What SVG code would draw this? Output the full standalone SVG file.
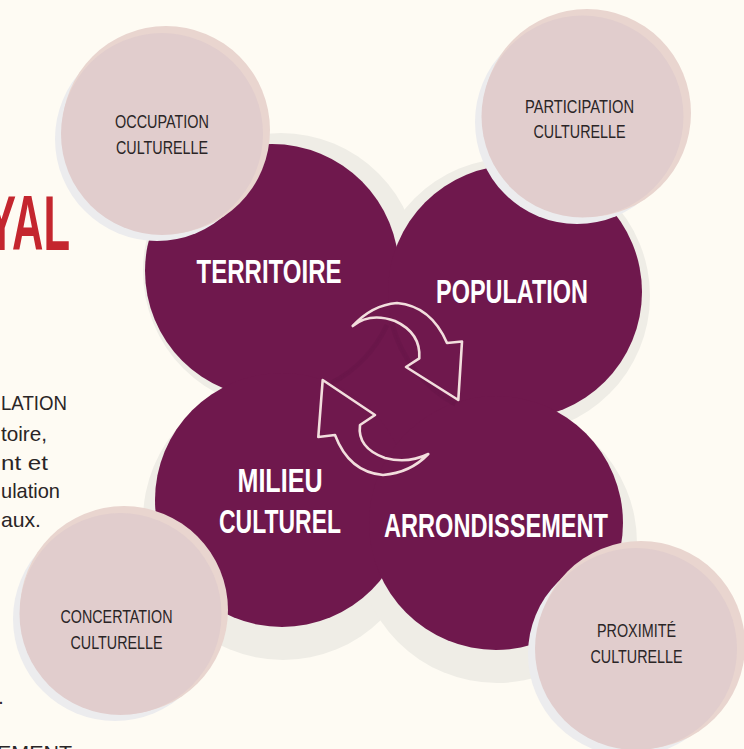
<svg xmlns="http://www.w3.org/2000/svg" width="744" height="749" viewBox="0 0 744 749">
  <style>
    .purple { fill: #6F184D; }
    .pshadow { fill: #EFEDE6; }
    .pink { fill: #E1CDCD; }
    .pring { fill: #E9D5CF; }
    .gring { fill: #ECECEE; }
    .lbl { font-family: "Liberation Sans", Arial, sans-serif; font-size: 18.5px; fill: #2A2526; text-anchor: middle; }
    .big { font-family: "Liberation Sans", Arial, sans-serif; font-size: 34px; font-weight: bold; fill: #FFFFFF; text-anchor: middle; }
    .body { font-family: "Liberation Sans", Arial, sans-serif; font-size: 21px; fill: #2A2526; }
    .arrow { fill: none; stroke: #F2DEDD; stroke-width: 2.6; stroke-linejoin: round; stroke-linecap: round; }
    .fold { fill: none; stroke: #5A1240; stroke-width: 5; stroke-opacity: 0.22; }
  </style>

  <rect x="0" y="0" width="744" height="749" fill="#FEFBF3"/>

  <!-- left page text (cut off) -->
  <g id="page-text">
    <text x="-13" y="250" textLength="83" lengthAdjust="spacingAndGlyphs" font-family="Liberation Sans, Arial, sans-serif" font-size="77" font-weight="bold" fill="#C4262E">YAL</text>
    <text class="body" x="1" y="410" textLength="66" lengthAdjust="spacingAndGlyphs">LATION</text>
    <text class="body" x="1" y="441" textLength="46" lengthAdjust="spacingAndGlyphs">toire,</text>
    <text class="body" x="1" y="470" textLength="47" lengthAdjust="spacingAndGlyphs">nt et</text>
    <text class="body" x="1" y="498" textLength="59" lengthAdjust="spacingAndGlyphs">ulation</text>
    <text class="body" x="1" y="527" textLength="40" lengthAdjust="spacingAndGlyphs">aux.</text>
    <text class="body" x="-2" y="704">.</text>
    <text class="body" x="-3" y="760" textLength="75" lengthAdjust="spacingAndGlyphs">EMENT</text>
  </g>

  <!-- central shape shadows -->
  <g id="shadows">
    <circle class="pshadow" cx="281" cy="271" r="138"/>
    <circle class="pshadow" cx="512" cy="296" r="138"/>
    <circle class="pshadow" cx="283" cy="520" r="140"/>
    <circle class="pshadow" cx="497" cy="543" r="140"/>
  </g>

  <g id="core">
    <circle class="purple" cx="391" cy="397" r="120"/>
  </g>
  <g id="territoire">
    <circle class="purple" cx="272" cy="271" r="127"/>
  </g>
  <g id="population">
    <circle class="purple" cx="515" cy="292" r="127"/>
  </g>
  <g id="milieu-culturel">
    <circle class="purple" cx="282" cy="500" r="127"/>
  </g>
  <g id="arrondissement">
    <circle class="purple" cx="496" cy="523" r="127"/>
  </g>

  <!-- subtle fold edges -->
  <path class="fold" d="M387,325 A127,127 0 0 1 331.6,383"/>
  <path class="fold" d="M391.8,322.7 A127,127 0 0 0 455.4,404.1"/>

  <!-- labels of purple nodes -->
  <text class="big" x="269" y="283" textLength="145" lengthAdjust="spacingAndGlyphs">TERRITOIRE</text>
  <text class="big" x="512" y="303" textLength="152" lengthAdjust="spacingAndGlyphs">POPULATION</text>
  <text class="big" x="280" y="492" textLength="85" lengthAdjust="spacingAndGlyphs">MILIEU</text>
  <text class="big" x="280" y="533" textLength="122" lengthAdjust="spacingAndGlyphs">CULTUREL</text>
  <text class="big" x="496" y="537" textLength="224" lengthAdjust="spacingAndGlyphs">ARRONDISSEMENT</text>

  <g id="connectors">
    <path class="arrow" d="M352.7,326 Q372,305 397,303 Q431,306 447,343 L462,341.5 L458.3,400 L406,367 L419.3,358.3 Q421,333 395,321 Q370,312 352.7,326 Z"/>
    <path class="arrow" d="M322.7,380 L375,415 L360,425 Q357,448 385,458 Q408,464 428.3,454 Q410,473 383,475 Q349,472 335,435 L318.3,437 Z"/>
  </g>

  <g id="occupation-culturelle">
    <circle class="gring" cx="157" cy="139" r="102"/>
    <circle class="pring" cx="166" cy="130" r="104"/>
    <circle class="pink" cx="162" cy="134" r="101"/>
    <text class="lbl" x="162" y="128" textLength="94" lengthAdjust="spacingAndGlyphs">OCCUPATION</text>
    <text class="lbl" x="162" y="154" textLength="92" lengthAdjust="spacingAndGlyphs">CULTURELLE</text>
  </g>

  <g id="participation-culturelle">
    <circle class="gring" cx="577" cy="122" r="102"/>
    <circle class="pring" cx="587" cy="113" r="104"/>
    <circle class="pink" cx="582.5" cy="116.5" r="101"/>
    <text class="lbl" x="579.5" y="113" textLength="109" lengthAdjust="spacingAndGlyphs">PARTICIPATION</text>
    <text class="lbl" x="579.5" y="138" textLength="92" lengthAdjust="spacingAndGlyphs">CULTURELLE</text>
  </g>

  <g id="concertation-culturelle">
    <circle class="gring" cx="115" cy="619" r="102"/>
    <circle class="pring" cx="124" cy="610" r="104"/>
    <circle class="pink" cx="120.5" cy="614" r="101"/>
    <text class="lbl" x="116.5" y="623" textLength="112" lengthAdjust="spacingAndGlyphs">CONCERTATION</text>
    <text class="lbl" x="116.5" y="649" textLength="92" lengthAdjust="spacingAndGlyphs">CULTURELLE</text>
  </g>

  <g id="proximite-culturelle">
    <circle class="gring" cx="630" cy="654" r="102"/>
    <circle class="pring" cx="641" cy="645" r="104"/>
    <circle class="pink" cx="636" cy="649" r="101"/>
    <text class="lbl" x="636.5" y="637" textLength="79" lengthAdjust="spacingAndGlyphs">PROXIMITÉ</text>
    <text class="lbl" x="636.5" y="663" textLength="92" lengthAdjust="spacingAndGlyphs">CULTURELLE</text>
  </g>
</svg>
